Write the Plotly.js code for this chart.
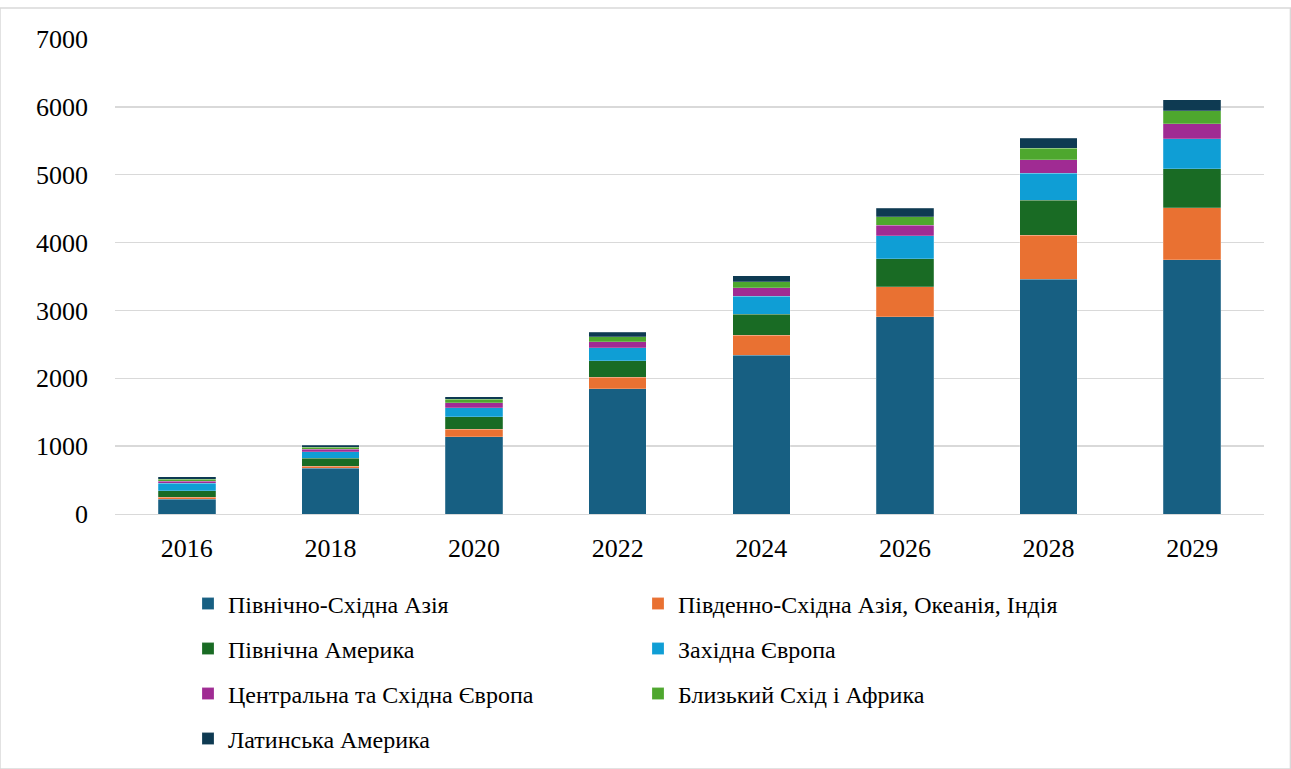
<!DOCTYPE html>
<html>
<head>
<meta charset="utf-8">
<script src="https://cdn.plot.ly/plotly-3.0.1.min.js"></script>
<style>html,body{margin:0;padding:0;background:#fff;}#chart{width:1291px;height:769px;}</style>
</head>
<body>
<div id="chart"></div>
<script>
const years = ["2016", "2018", "2020", "2022", "2024", "2026", "2028", "2029"];
const seriesNames = [
  "Північно-Східна Азія",
  "Південно-Східна Азія, Океанія, Індія",
  "Північна Америка",
  "Західна Європа",
  "Центральна та Східна Європа",
  "Близький Схід і Африка",
  "Латинська Америка"
];
const neAsia      = [217, 673, 1139, 1847, 2343, 2907, 3463, 3748];
const seAsia      = [30, 34, 113, 168, 290, 442, 644, 762];
const nAmerica    = [93, 113, 181, 245, 314, 413, 516, 575];
const wEurope     = [113, 98, 133, 192, 261, 339, 402, 442];
const ceEurope    = [30, 39, 74, 88, 127, 153, 196, 226];
const meAfrica    = [30, 29, 49, 74, 88, 127, 172, 187];
const latAmerica  = [38, 29, 39, 64, 88, 123, 147, 167];
const seriesValues = [neAsia, seAsia, nAmerica, wEurope, ceEurope, meAfrica, latAmerica];
const colors = ["#175f82", "#e97132", "#196b24", "#0f9ed5", "#a02b93", "#4ea72e", "#0e3a52"];
const yTicks = [0, 1000, 2000, 3000, 4000, 5000, 6000, 7000];

const font = "Liberation Serif, DejaVu Serif, serif";
const legendIds = ["legend", "legend", "legend2", "legend2", "legend3", "legend3", "legend4"];
const traces = seriesNames.map((name, i) => ({
  type: "bar",
  name: name,
  x: years,
  y: seriesValues[i],
  legend: legendIds[i],
  marker: {color: colors[i], line: {color: "rgba(255,255,255,0.35)", width: 0.6}},
  hoverinfo: "x+y+name"
}));

const H = 769;
function legendAt(ypix) {
  return {
    orientation: "h",
    xref: "container", yref: "container",
    x: 188 / 1291, xanchor: "left",
    y: 1 - ypix / H, yanchor: "middle",
    entrywidth: 405, entrywidthmode: "pixels",
    traceorder: "normal",
    font: {family: font, size: 24, color: "#000"},
    itemwidth: 30,
    bgcolor: "rgba(0,0,0,0)"
  };
}

const layout = {
  width: 1291, height: 769,
  barmode: "stack",
  bargap: 0.6,
  paper_bgcolor: "#fff", plot_bgcolor: "#fff",
  margin: {l: 115, r: 27, t: 39, b: 255, autoexpand: false},
  font: {family: font, size: 26, color: "#000"},
  xaxis: {
    type: "category",
    tickfont: {family: font, size: 26, color: "#000"},
    ticklabelstandoff: 11,
    showline: true, linecolor: "#d9d9d9", linewidth: 1,
    ticks: "", showgrid: false
  },
  yaxis: {
    range: [0, 7000],
    tickvals: yTicks,
    ticktext: yTicks.map(String),
    tickfont: {family: font, size: 26, color: "#000"},
    ticklabelstandoff: 26,
    showgrid: true, gridcolor: "#d9d9d9", gridwidth: 1.5,
    zeroline: false, showline: false, ticks: "", ticklen: 0
  },
  showlegend: true,
  legend: legendAt(604),
  legend2: legendAt(649),
  legend3: legendAt(694),
  legend4: legendAt(739),
  shapes: [{
    type: "rect", xref: "paper", yref: "paper",
    x0: -115/1149, x1: 1.023, y0: -255/475, y1: 1 + 31/475,
    line: {color: "#d9d9d9", width: 1.5}, fillcolor: "rgba(0,0,0,0)", layer: "below"
  }]
};

Plotly.newPlot("chart", traces, layout, {displayModeBar: false, staticPlot: true});
</script>
</body>
</html>
